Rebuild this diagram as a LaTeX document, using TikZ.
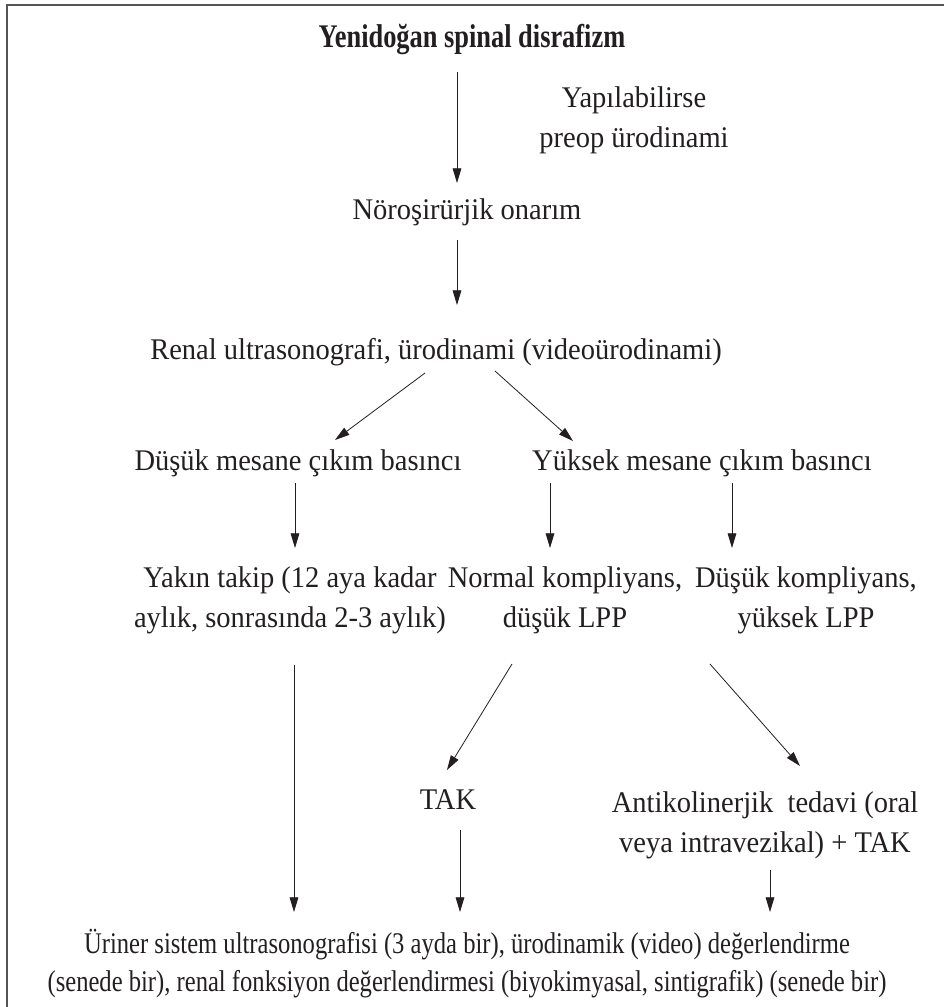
\documentclass[tikz,border=0pt]{standalone}
\usepackage{fontspec}
\setmainfont{Liberation Serif}[FakeStretch=0.95]
\newfontfamily\titlefont{Liberation Serif}[FakeStretch=0.8]
\newfontfamily\condfont{Liberation Serif}[FakeStretch=0.82]
\usetikzlibrary{arrows.meta,calc}
\definecolor{framec}{HTML}{555555}
\definecolor{ink}{HTML}{231F20}

\begin{document}
\begin{tikzpicture}[
  x=0.75pt, y=-0.75pt,
  txt/.style={align=center, inner sep=0pt, text=ink, font=\fontsize{22.5pt}{30pt}\selectfont},
  head/.style={txt, font=\titlefont\bfseries\fontsize{24.75pt}{30pt}\selectfont},
  foot/.style={txt, font=\condfont\fontsize{22.5pt}{28.5pt}\selectfont},
  flow/.style={-{Triangle[length=11pt,width=6.5pt]}, line width=.6pt, ink},
  rule/.style={draw=framec, line width=1.5pt},
]
\useasboundingbox (0,0) rectangle (944,1007);

% ---------------- frame
\draw[rule] (7,1007) -- (7,5) -- (944,5);

% ---------------- top
\node[head] (title)  at (472,40)  {Yenidoğan spinal disrafizm};
\node[txt]  (preop)  at (634,120) {Yapılabilirse\\preop ürodinami};
\node[txt]  (onarim) at (467,212) {Nöroşirürjik onarım};
\node[txt]  (renal)  at (436,352) {Renal ultrasonografi, ürodinami (videoürodinami)};

% ---------------- branches
\node[txt] (dusuk)  at (298,463) {Düşük mesane çıkım basıncı};
\node[txt] (yuksek) at (702,463) {Yüksek mesane çıkım basıncı};
\node[txt] (yakin)  at (290,600) {Yakın takip (12 aya kadar\\aylık, sonrasında 2-3 aylık)};
\node[txt] (normal) at (565,600) {Normal kompliyans,\\düşük LPP};
\node[txt] (dkomp)  at (806,600) {Düşük kompliyans,\\yüksek LPP};
\node[txt] (tak)    at (448,800) {TAK};
\node[txt] (antik)  at (765,825) {Antikolinerjik~ tedavi (oral\\veya intravezikal) + TAK};

% ---------------- follow-up
\node[foot] (takip) at (467,964) {Üriner sistem ultrasonografisi (3 ayda bir), ürodinamik (video) değerlendirme\\(senede bir), renal fonksiyon değerlendirmesi (biyokimyasal, sintigrafik) (senede bir)};

% ---------------- flows
\draw[flow] ($(title.center)+(-15,32)$) -- ($(onarim.center)+(-10,-29)$);
\draw[flow] ($(onarim.center)+(-10,28)$) -- ($(renal.center)+(21,-47)$);
\draw[flow] ($(renal.center)+(-11,21)$) -- ($(dusuk.center)+(37,-23)$);
\draw[flow] ($(renal.center)+(59,19)$) -- ($(yuksek.center)+(-129,-22)$);
\draw[flow] ($(dusuk.center)+(-3,20)$) -- ($(yakin.center)+(5,-52)$);
\draw[flow] ($(yuksek.center)+(-152,20)$) -- ($(normal.center)+(-15,-52)$);
\draw[flow] ($(yuksek.center)+(30,20)$) -- ($(dkomp.center)+(-74,-52)$);
\draw[flow] ($(yakin.center)+(4,65)$) -- ($(takip.center)+(-173,-52)$);
\draw[flow] ($(normal.center)+(-53,64)$) -- ($(tak.center)+(-1,-30)$);
\draw[flow] ($(dkomp.center)+(-96,64)$) -- ($(antik.center)+(35,-59)$);
\draw[flow] ($(tak.center)+(12,30)$) -- ($(takip.center)+(-7,-52)$);
\draw[flow] ($(antik.center)+(5,45)$) -- ($(takip.center)+(303,-52)$);

\end{tikzpicture}
\end{document}
